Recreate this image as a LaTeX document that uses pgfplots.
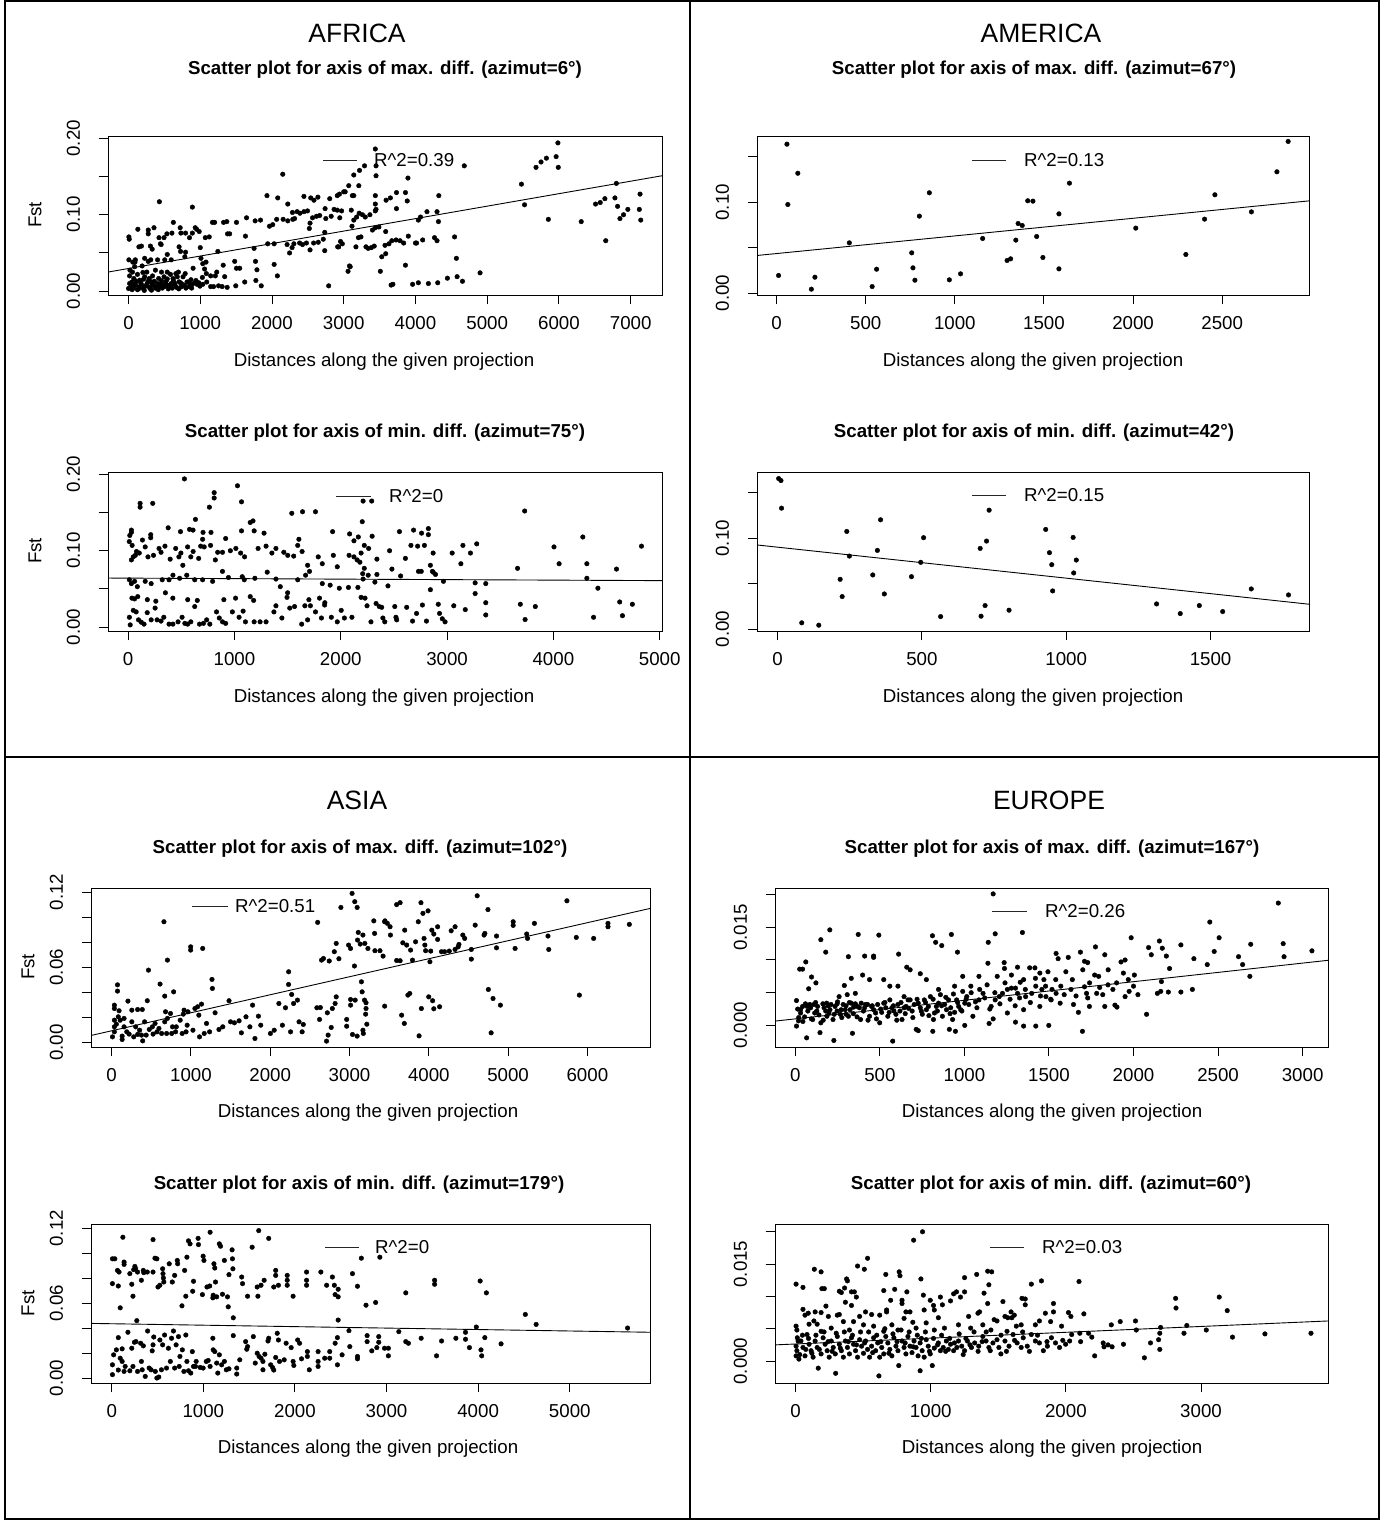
\documentclass[border=0pt]{standalone}
\usepackage{fontspec}
\setmainfont{Liberation Sans}
\usepackage{pgfplots}
\pgfplotsset{compat=1.18}
\newcommand\tf{\fontsize{18.7}{22}\selectfont}
\newcommand\bigf{\fontsize{26.5}{30}\selectfont}
\pgfplotsset{
  rplot/.style={scale only axis, height=159pt, anchor=south west,
    axis line style={line width=1pt}, tick style={line width=1pt,black},
    tick align=outside, major tick length=9.3pt,
    xtick pos=left, ytick pos=left, scaled ticks=false,
    tick label style={font=\tf},
    xticklabel style={yshift=-9pt},
    yticklabel style={xshift=-15pt,rotate=90,anchor=south}},
  pts/.style={only marks, mark=*, mark size=2.3pt, black},
  fit/.style={no marks, line width=0.9pt, black},
}
\begin{document}
\begin{tikzpicture}
\useasboundingbox (0,0) rectangle (1382pt,-1521pt);
\draw[line width=1.4pt] (5pt,-1pt) rectangle (1379pt,-1519pt);
\draw[line width=1.4pt] (690pt,-1pt) -- (690pt,-1519pt);
\draw[line width=1.4pt] (5pt,-757pt) -- (1379pt,-757pt);

% ---------------- AFRICA max
\begin{axis}[rplot, width=554pt, at={(108pt,-295pt)},
  xmin=-286, xmax=7436, ymin=-0.005, ymax=0.203,
  xtick={0,1000,2000,3000,4000,5000,6000,7000}, xticklabels={0,1000,2000,3000,4000,5000,6000,7000},
  ytick={0,0.05,0.1,0.15,0.2}, yticklabels={0.00,,0.10,,0.20}]
\addplot[pts] coordinates {(4680,0.164)(3440,0.186)(3290,0.164)(3220,0.158)(3140,0.152)(3450,0.164)(3450,0.151)(2150,0.153)(5477,0.140)(5680,0.162)(5750,0.169)(5825,0.174)(5960,0.176)(5985,0.194)(5990,0.162)(5520,0.113)(5852,0.094)(6310,0.091)(6652,0.066)(6510,0.114)(6575,0.116)(6640,0.121)(6780,0.122)(6800,0.141)(6817,0.111)(6850,0.095)(6900,0.100)(6960,0.107)(7120,0.107)(7130,0.127)(7140,0.093)
(4900,0.024)(4655,0.013)(4580,0.019)(4570,0.043)(4545,0.071)(4445,0.017)(4310,0.011)(4180,0.010)(4040,0.011)(3960,0.009)
(4325,0.125)(4300,0.104)(4320,0.091)(4300,0.066)(4265,0.070)(4160,0.104)(4070,0.097)(4040,0.093)(4100,0.067)(4015,0.063)(3900,0.072)(3895,0.148)(3885,0.118)(3860,0.129)(3735,0.129)(3650,0.122)(3590,0.119)(3735,0.108)(3860,0.034)(4000,0.063)(3510,0.026)(3530,0.045)(3585,0.049)(3585,0.078)(3660,0.008)(3685,0.009)(3575,0.060)(3630,0.062)(3670,0.066)(3730,0.067)(3785,0.066)(3835,0.063)
(3340,0.056)(3310,0.058)(3385,0.057)(3425,0.059)(3440,0.083)(3440,0.105)(3440,0.114)(3440,0.125)(3450,0.107)(3365,0.100)(3300,0.097)(3260,0.100)(3215,0.102)(3180,0.097)(3140,0.093)(3115,0.085)(3105,0.106)(3120,0.125)(3070,0.138)(3020,0.130)(3210,0.138)(3140,0.125)(3205,0.070)(3170,0.058)(3080,0.033)(3060,0.026)(2980,0.062)(2930,0.058)(2955,0.065)(2970,0.105)(2945,0.096)(2910,0.106)(2910,0.125)(2940,0.127)(3000,0.130)
(2790,0.007)(2805,0.121)(2865,0.107)(2825,0.098)(2750,0.095)(2735,0.077)(2740,0.108)(2640,0.123)(2665,0.099)(2620,0.098)(2585,0.119)(2540,0.122)(2565,0.096)(2530,0.089)(2520,0.082)(2445,0.124)(2495,0.105)(2445,0.104)(2390,0.102)(2350,0.104)(2315,0.095)(2285,0.103)(2290,0.094)(2220,0.114)(2220,0.092)(2155,0.094)(2080,0.122)(2065,0.094)(1930,0.125)(1965,0.085)(2010,0.087)(1940,0.062)(2030,0.062)(2030,0.035)(2075,0.020)
(1840,0.093)(1765,0.092)(1750,0.056)(1645,0.096)(1630,0.072)(1505,0.090)(1505,0.030)(1495,0.007)(1370,0.091)(1325,0.090)(1170,0.090)(1200,0.090)(1380,0.075)(1410,0.075)(1125,0.071)(1070,0.070)(1000,0.057)(985,0.078)(890,0.110)(930,0.083)(950,0.081)(890,0.076)(795,0.076)(730,0.076)(720,0.083)(850,0.070)(605,0.076)(625,0.090)(535,0.075)(495,0.070)(425,0.070)(445,0.062)(430,0.117)(355,0.083)(275,0.080)(275,0.075)(130,0.081)(5,0.071)(10,0.068)
(180,0.059)(145,0.058)(305,0.059)(330,0.055)(455,0.061)(705,0.058)(725,0.052)(795,0.051)(785,0.045)(540,0.048)(505,0.041)(595,0.041)(405,0.041)(310,0.041)(225,0.043)(95,0.041)(5,0.041)(60,0.038)(90,0.038)(190,0.033)(275,0.039)
(1010,0.043)(1035,0.036)(1080,0.038)(1245,0.052)(1320,0.034)(1480,0.039)(1550,0.030)(1770,0.039)(1790,0.028)(1775,0.014)(1850,0.007)(1340,0.019)(1305,0.006)(1255,0.007)(1210,0.020)(1230,0.025)(1145,0.020)(1085,0.023)(1060,0.029)(1030,0.018)(980,0.011)(1035,0.009)(1090,0.012)(1145,0.006)(1375,0.005)(1185,0.006)(1620,0.012)
(0,0.0035)(35,0.006)(70,0.004)(100,0.008)(125,0.002)(155,0.006)(180,0.009)(210,0.003)(235,0.0065)(265,0.011)(290,0.005)(320,0.0013)(345,0.0075)(375,0.004)(405,0.010)(430,0.0057)(460,0.0135)(485,0.0075)(515,0.011)(540,0.016)(570,0.0057)(595,0.010)(625,0.0144)(650,0.0075)(680,0.0188)(705,0.0122)(735,0.0057)(760,0.0188)(790,0.023)(815,0.012)(845,0.006)(870,0.015)(900,0.030)(925,0.011)(955,0.009)(860,0.0087)(45,0.012)(75,0.0166)(125,0.022)(155,0.0144)(200,0.0245)(225,0.0188)(255,0.025)(290,0.0166)(335,0.020)(375,0.0275)(420,0.0166)(460,0.025)(495,0.0188)(540,0.025)(585,0.022)(620,0.0166)(660,0.023)(695,0.025)(55,0.025)(20,0.0275)(85,0.032)(15,0.020)(210,0.0157)(320,0.012)(530,0.0079)(625,0.007)(725,0.011)(780,0.0074)(890,0.009)(995,0.0066)
(15,0.010)(50,0.002)(80,0.009)(110,0.013)(140,0.003)(165,0.012)(195,0.005)(220,0.001)(250,0.008)(280,0.014)(305,0.003)(330,0.009)(360,0.013)(390,0.006)(415,0.002)(445,0.009)(470,0.004)(500,0.006)(525,0.013)(555,0.003)(580,0.008)(610,0.004)(640,0.011)(670,0.005)(700,0.003)(750,0.009)(800,0.004)(830,0.012)(880,0.004)(940,0.014)
(2210,0.061)(2245,0.050)(2280,0.057)(2305,0.062)(2385,0.063)(2425,0.061)(2480,0.063)(2530,0.054)(2580,0.063)(2645,0.064)(2715,0.068)(2735,0.053)(2915,0.058)(3090,0.032)(3240,0.071)(3400,0.080)(3490,0.084)};
\addplot[fit] coordinates {(-286,0.025)(7436,0.151)};
\end{axis}

% ---------------- AFRICA min
\begin{axis}[rplot, width=554pt, at={(108pt,-631pt)},
  xmin=-190, xmax=5022, ymin=-0.005, ymax=0.203,
  xtick={0,1000,2000,3000,4000,5000}, xticklabels={0,1000,2000,3000,4000,5000},
  ytick={0,0.05,0.1,0.15,0.2}, yticklabels={0.00,,0.10,,0.20}]
\addplot[pts] coordinates {(529,0.194)(1028,0.185)(809,0.176)(809,0.169)(112,0.162)(112,0.157)(231,0.162)(1066,0.164)(764,0.157)(633,0.141)(1174,0.139)(1148,0.137)(1539,0.149)(1640,0.151)(1762,0.151)(2210,0.165)(2291,0.165)(2202,0.138)(3730,0.152)(376,0.130)(30,0.127)(30,0.124)(15,0.120)(134,0.114)(212,0.121)(212,0.117)(492,0.125)(577,0.128)(610,0.127)(704,0.124)(779,0.124)(700,0.115)(917,0.116)(1066,0.126)(1185,0.126)(1278,0.123)(1606,0.115)(2083,0.122)(2124,0.113)(2165,0.118)(2295,0.119)(2552,0.125)(2685,0.127)(2760,0.123)(2824,0.129)(2824,0.121)(1923,0.125)
(10,0.112)(37,0.107)(67,0.094)(48,0.092)(30,0.088)(78,0.099)(104,0.097)(160,0.105)(186,0.092)(238,0.094)(290,0.103)(309,0.098)(346,0.106)(395,0.089)(447,0.103)(477,0.092)(496,0.097)(514,0.081)(559,0.105)(589,0.092)(611,0.099)(663,0.090)(682,0.106)(715,0.105)(775,0.107)(820,0.088)(842,0.098)(887,0.098)(961,0.100)(1013,0.103)(1058,0.097)(1095,0.092)(1222,0.103)(1297,0.106)(1352,0.097)(1390,0.103)(1464,0.098)(1501,0.094)(1557,0.093)(1595,0.107)(1636,0.099)(1688,0.081)(1788,0.092)(1826,0.083)(1930,0.094)(1967,0.079)(2078,0.094)(2124,0.092)(2154,0.088)(2180,0.085)(2221,0.107)(2262,0.103)(2191,0.097)(2340,0.089)(2459,0.100)(2608,0.090)(2660,0.107)(2723,0.106)(2787,0.107)(2869,0.097)(2843,0.081)(2731,0.073)(2862,0.073)(3048,0.097)(3149,0.107)(3130,0.083)(3220,0.097)(3279,0.109)(3663,0.077)(4006,0.105)(4054,0.083)(4277,0.118)(4315,0.083)(4315,0.064)(4419,0.051)(4594,0.076)(4829,0.106)(4624,0.033)(4743,0.030)(4650,0.015)(4378,0.013)(3734,0.010)(3689,0.030)(3830,0.027)(3364,0.016)(3364,0.032)(3264,0.044)(3264,0.058)(3171,0.023)(3063,0.028)
(11,0.062)(30,0.057)(60,0.060)(86,0.053)(160,0.060)(216,0.057)(320,0.062)(384,0.062)(421,0.068)(484,0.064)(551,0.068)(626,0.062)(700,0.062)(794,0.060)(887,0.073)(943,0.065)(1073,0.066)(1092,0.062)(1192,0.064)(1308,0.072)(1390,0.063)(1431,0.053)(1595,0.062)(1669,0.068)(1706,0.073)(1826,0.057)(1900,0.055)(1986,0.051)(2072,0.052)(2161,0.052)(2206,0.070)(2210,0.063)(2221,0.077)(2258,0.068)(2321,0.059)(2340,0.069)(2444,0.054)(2481,0.076)(2563,0.067)(2757,0.073)(2869,0.072)(2891,0.069)(2966,0.060)(3364,0.057)
(11,0.013)(19,0.003)(48,0.022)(75,0.020)(97,0.0096)(123,0.0065)(149,0.004)(179,0.019)(216,0.0096)(253,0.025)(272,0.0096)(309,0.008)(335,0.013)(384,0.004)(421,0.004)(469,0.007)(507,0.013)(533,0.005)(559,0.004)(589,0.007)(626,0.027)(671,0.004)(708,0.005)(738,0.0096)(768,0.004)(831,0.020)(857,0.012)(887,0.007)(917,0.005)(980,0.020)(1043,0.013)(1081,0.021)(1103,0.007)(1148,0.040)(1185,0.007)(1241,0.007)(1297,0.007)(1371,0.020)(1390,0.028)(1446,0.012)(1494,0.039)(1520,0.025)(1565,0.027)(1632,0.004)(1662,0.028)(1688,0.0096)(1714,0.028)(1762,0.020)(1800,0.038)(1818,0.012)(1848,0.029)(1911,0.013)(1967,0.007)(2004,0.022)(2034,0.012)(2105,0.013)(2191,0.039)(2228,0.038)(2247,0.028)(2284,0.007)(2332,0.031)(2362,0.027)(2385,0.026)(2396,0.012)(2414,0.007)(2508,0.027)(2519,0.013)(2526,0.0096)(2620,0.026)(2675,0.008)(2713,0.018)(2768,0.029)(2806,0.008)(2917,0.030)(2929,0.018)(2955,0.011)(2981,0.007)(2843,0.049)
(35,0.038)(60,0.037)(90,0.040)(180,0.036)(260,0.034)(350,0.045)(420,0.038)(560,0.036)(650,0.035)(900,0.036)(1010,0.038)(1180,0.035)(1500,0.045)(1700,0.036)(1850,0.032)};
\addplot[fit] coordinates {(-190,0.0643)(5022,0.0609)};
\end{axis}

% ---------------- AMERICA max
\begin{axis}[rplot, width=552pt, at={(757pt,-295pt)},
  xmin=-110, xmax=2987, ymin=-0.002, ymax=0.173,
  xtick={0,500,1000,1500,2000,2500}, xticklabels={0,500,1000,1500,2000,2500},
  ytick={0,0.05,0.1,0.15}, yticklabels={0.00,,0.10,}]
\addplot[pts] coordinates {(11,0.0195)(58,0.164)(63,0.0976)(119,0.132)(195,0.0044)(215,0.0176)(408,0.0554)(536,0.0073)(561,0.0264)(758,0.0444)(765,0.0279)(776,0.0143)(801,0.0848)(857,0.1105)(969,0.0147)(1032,0.0213)(1156,0.0602)(1293,0.0360)(1313,0.0378)(1342,0.0584)(1355,0.0767)(1378,0.0745)(1409,0.1017)(1438,0.1013)(1459,0.0624)(1494,0.0393)(1584,0.0873)(1584,0.0268)(1643,0.1211)(2015,0.0716)(2296,0.0426)(2401,0.0815)(2459,0.1083)(2664,0.0895)(2807,0.1336)(2870,0.167)};
\addplot[fit] coordinates {(-110,0.0415)(2987,0.1016)};
\end{axis}

% ---------------- AMERICA min
\begin{axis}[rplot, width=552pt, at={(757pt,-631pt)},
  xmin=-71, xmax=1841, ymin=-0.002, ymax=0.173,
  xtick={0,500,1000,1500}, xticklabels={0,500,1000,1500},
  ytick={0,0.05,0.1,0.15}, yticklabels={0.00,,0.10,}]
\addplot[pts] coordinates {(4,0.1658)(12,0.1636)(14,0.1332)(84,0.0070)(143,0.0044)(217,0.0549)(224,0.0359)(240,0.1076)(249,0.0805)(330,0.0597)(346,0.0867)(357,0.1204)(370,0.0388)(464,0.0578)(496,0.0736)(506,0.1007)(565,0.0139)(702,0.0889)(705,0.0143)(719,0.0260)(724,0.0970)(733,0.1310)(802,0.0209)(929,0.1098)(942,0.0842)(950,0.0710)(953,0.0421)(1024,0.1010)(1035,0.0761)(1026,0.0619)(1313,0.0278)(1395,0.0172)(1461,0.0260)(1542,0.0194)(1641,0.0443)(1770,0.0377)};
\addplot[fit] coordinates {(-71,0.0927)(1841,0.0275)};
\end{axis}

% ---------------- ASIA max
\begin{axis}[rplot, width=559pt, at={(91pt,-1047pt)},
  xmin=-261, xmax=6790, ymin=-0.0036, ymax=0.1232,
  xtick={0,1000,2000,3000,4000,5000,6000}, xticklabels={0,1000,2000,3000,4000,5000,6000},
  ytick={0,0.02,0.04,0.06,0.08,0.1,0.12}, yticklabels={0.00,,,0.06,,,0.12}]
\addplot[pts] coordinates {(3032,0.1189)(3066,0.1123)(3096,0.1077)(2891,0.1077)(2598,0.0958)(4610,0.117)(5742,0.113)(4746,0.106)(3638,0.1115)(3594,0.110)(3901,0.1115)(3926,0.103)(3990,0.105)(3867,0.0963)(3447,0.097)(3477,0.095)(3511,0.0923)(3516,0.0857)(3306,0.097)(3316,0.087)(3110,0.0878)(3169,0.0857)(3193,0.079)(3232,0.075)(3101,0.0817)(3135,0.0785)(3384,0.0732)(3423,0.0689)(3594,0.0654)(3638,0.0652)(3672,0.0795)(3696,0.0896)(3721,0.0777)(3770,0.0737)(3794,0.0657)(3833,0.0803)(3940,0.083)(3950,0.0777)(3960,0.0732)(4014,0.0644)(4024,0.0729)(4038,0.0896)(4063,0.0865)(4111,0.0923)(4111,0.0822)(4160,0.0724)(4199,0.0724)(4258,0.0729)(4282,0.0891)(4331,0.0923)(4331,0.0742)(4370,0.0763)(4380,0.0782)(4429,0.0857)(4453,0.083)(4536,0.0742)(4536,0.0665)(4585,0.0936)(4697,0.0857)(4707,0.087)(4854,0.0849)(4854,0.0755)(5064,0.0963)(5064,0.0934)(5088,0.075)(5235,0.0865)(5245,0.083)(5332,0.095)(5503,0.0849)(5513,0.0742)(5860,0.0838)(5899,0.0378)(6079,0.083)(6260,0.0923)(6260,0.095)(6529,0.0942)
(3062,0.061)(3150,0.0484)(3159,0.0404)(3189,0.0338)(3208,0.0317)(3208,0.0271)(3203,0.0226)(3218,0.0146)(3013,0.0343)(3013,0.0298)(3071,0.0338)(3096,0.0051)(3037,0.0064)(2964,0.013)(2964,0.0184)(3169,0.0098)(3174,0.0072)(2832,0.0364)(2818,0.0311)(2783,0.0271)(2769,0.012)(2730,0.0059)(2710,0.0011)(2622,0.0184)(2632,0.0279)(2720,0.0237)(2588,0.0277)(3443,0.029)(3657,0.0218)(3691,0.0152)(3736,0.0378)(3760,0.0391)(3906,0.0271)(3999,0.0364)(4048,0.0333)(4063,0.0269)(4136,0.0285)(3877,0.0053)(4751,0.0423)(4810,0.0351)(4903,0.0298)(4786,0.0077)
(73,0.046)(73,0.041)(34,0.0298)(34,0.0271)(93,0.0253)(83,0.0205)(34,0.0178)(34,0.0125)(10,0.0045)(132,0.0051)(132,0.0024)(107,0.0178)(156,0.0192)(205,0.033)(254,0.0258)(254,0.0165)(220,0.0067)(303,0.0125)(327,0.0064)(376,0.0059)(391,0.0013)(327,0.0263)(386,0.0263)(449,0.0333)(464,0.0577)(415,0.0165)(474,0.0104)(513,0.0125)(547,0.0152)(571,0.0085)(610,0.0466)(630,0.0072)(659,0.0963)(669,0.037)(679,0.0245)(703,0.0657)(703,0.0192)(693,0.0072)(742,0.0231)(767,0.0125)(781,0.0404)(806,0.0085)(864,0.0178)(913,0.0258)(938,0.0085)(962,0.0245)(996,0.0763)(996,0.0737)(1050,0.0271)(1084,0.0285)(1099,0.0218)(1108,0.0045)(1133,0.0306)(1148,0.075)(1167,0.0072)(1196,0.0152)(1235,0.0085)(1265,0.0503)(1270,0.0431)(1304,0.0237)(1353,0.0104)(1401,0.0125)(1480,0.0333)(1499,0.0165)(1548,0.0157)(1607,0.0173)(1636,0.0077)(1694,0.0205)(1743,0.0125)(1777,0.0298)(1807,0.0032)(1851,0.021)(1880,0.0138)(2002,0.0072)(2050,0.0098)(2109,0.0311)(2153,0.0138)(2192,0.0277)(2231,0.0463)(2256,0.0085)(2270,0.0383)(2294,0.0311)(2343,0.0338)(2363,0.0165)(2402,0.0085)(2417,0.0144)(2232,0.0564)
(34,0.0085)(59,0.0146)(156,0.0125)(190,0.0085)(278,0.0045)(352,0.0098)(435,0.0059)(522,0.0067)(596,0.0112)(669,0.0165)(757,0.0072)(815,0.0125)(889,0.0072)(952,0.0138)(1025,0.0098)(903,0.0226)
(2832,0.079)(2808,0.0724)(2866,0.0668)(2988,0.0777)(3013,0.075)(2671,0.067)(2647,0.0657)(2744,0.065)(3443,0.0963)(3320,0.0732)};
\addplot[fit] coordinates {(-261,0.0056)(6790,0.1069)};
\end{axis}

% ---------------- ASIA min
\begin{axis}[rplot, width=559pt, at={(91pt,-1383pt)},
  xmin=-226, xmax=5876, ymin=-0.004, ymax=0.1235,
  xtick={0,1000,2000,3000,4000,5000}, xticklabels={0,1000,2000,3000,4000,5000},
  ytick={0,0.02,0.04,0.06,0.08,0.1,0.12}, yticklabels={0.00,,,0.06,,,0.12}]
\addplot[pts] coordinates {(122,0.1129)(451,0.111)(838,0.110)(943,0.112)(947,0.107)(1074,0.1169)(1175,0.1076)(1188,0.1057)(1314,0.1028)(1533,0.1049)(1605,0.1182)(1714,0.112)(8,0.0956)(34,0.0956)(8,0.0757)(72,0.0738)(63,0.0863)(80,0.085)(135,0.093)(135,0.0911)(198,0.0837)(219,0.0752)(240,0.0869)(232,0.0656)(93,0.0563)(274,0.046)(253,0.0895)(261,0.0876)(282,0.085)(324,0.0784)(345,0.0863)(350,0.0845)(388,0.085)(451,0.085)(472,0.0961)(493,0.0956)(505,0.073)(526,0.0744)(556,0.0876)(560,0.0837)(564,0.0802)(569,0.077)(628,0.0916)(661,0.077)(687,0.0823)(716,0.0943)(720,0.0916)(767,0.0579)(796,0.0863)(809,0.0656)(821,0.0969)(855,0.1076)(884,0.0696)(893,0.0776)(998,0.0977)(1007,0.0943)(990,0.0669)(1040,0.073)(1070,0.0738)(1108,0.0664)(1116,0.0916)(1125,0.0882)(1133,0.077)(1104,0.0643)(1146,0.0651)(1209,0.0672)(1230,0.0943)(1264,0.0651)(1272,0.0571)(1280,0.0829)(1318,0.0956)(1323,0.0876)(1327,0.0483)(1419,0.081)(1428,0.0757)(1483,0.0656)(1588,0.073)(1596,0.0656)(1630,0.0744)(1664,0.0784)(1769,0.073)(1790,0.0863)(1790,0.0823)(1820,0.0744)(1916,0.0823)(1916,0.0784)(1916,0.0744)(1980,0.0656)(2127,0.085)(2127,0.0784)(2127,0.0744)(2283,0.085)(2346,0.0744)(2409,0.081)(2430,0.0744)(2439,0.0669)(2472,0.0651)(2472,0.0712)(2472,0.0465)(2628,0.0837)(2683,0.0736)(2725,0.0961)(2776,0.0584)(2881,0.0606)(2927,0.0969)(3210,0.0683)(3525,0.0784)(3525,0.0752)(4022,0.0778)(4090,0.0683)(4515,0.051)(4633,0.043)(5631,0.0401)
(8,0.0027)(8,0.0106)(21,0.0186)(51,0.0226)(72,0.0064)(72,0.0324)(93,0.0159)(114,0.0234)(114,0.0133)(135,0.0053)(147,0.0093)(177,0.0367)(198,0.0058)(219,0.0239)(232,0.0093)(248,0.0287)(265,0.0292)(282,0.0053)(316,0.0279)(324,0.0133)(333,0.0066)(345,0.0258)(366,0.0013)(392,0.0377)(409,0.008)(430,0.0066)(442,0.0218)(451,0.0266)(459,0.0329)(476,0.0053)(493,0.0)(514,0.0008)(526,0.0305)(543,0.0066)(556,0.0266)(577,0.0345)(598,0.008)(619,0.0239)(640,0.0133)(653,0.0319)(674,0.0377)(687,0.008)(703,0.0266)(729,0.0332)(737,0.0093)(745,0.0173)(771,0.0226)(788,0.0053)(809,0.0345)(821,0.0133)(838,0.0058)(863,0.004)(880,0.0212)(893,0.0093)(914,0.0093)(922,0.0133)(965,0.0085)(998,0.008)(1032,0.0133)(1053,0.0141)(1074,0.0093)(1104,0.0319)(1108,0.0226)(1125,0.0212)(1146,0.012)(1158,0.004)(1175,0.0186)(1200,0.0106)(1230,0.0133)(1251,0.0066)(1280,0.0074)(1327,0.034)(1365,0.008)(1365,0.0032)(1398,0.0146)(1462,0.0292)(1474,0.0231)(1483,0.0252)(1546,0.0332)(1567,0.012)(1588,0.0199)(1609,0.0173)(1630,0.0159)(1651,0.0133)(1651,0.0066)(1672,0.0191)(1706,0.0297)(1714,0.0319)(1735,0.0106)(1756,0.0085)(1769,0.0064)(1790,0.0165)(1807,0.0359)(1820,0.0305)(1832,0.0133)(1883,0.0146)(1904,0.0279)(1959,0.0244)(1980,0.0133)(1988,0.0101)(2030,0.0305)(2051,0.0279)(2072,0.0154)(2136,0.0212)(2136,0.0173)(2157,0.0066)(2253,0.0212)(2253,0.0133)(2253,0.0093)(2325,0.0159)(2380,0.0212)(2380,0.0159)(2439,0.0279)(2464,0.0324)(2464,0.0106)(2515,0.0186)(2590,0.038)(2599,0.0252)(2683,0.0173)(2683,0.0154)(2788,0.034)(2788,0.0292)(2839,0.0218)(2894,0.0244)(2915,0.0332)(2915,0.0287)(2978,0.0239)(3020,0.0178)(3020,0.0239)(3134,0.0372)(3210,0.0292)(3239,0.0279)(3378,0.0319)(3546,0.0178)(3601,0.0297)(3757,0.0319)(3862,0.0367)(3862,0.0311)(3905,0.0244)(3980,0.0409)(4031,0.0226)(4039,0.0178)(4073,0.0324)(4250,0.0274)};
\addplot[fit] coordinates {(-226,0.0438)(5876,0.0367)};
\end{axis}

% ---------------- EUROPE max
\begin{axis}[rplot, width=553pt, at={(775pt,-1047pt)},
  xmin=-120, xmax=3150, ymin=-0.0033, ymax=0.0210,
  xtick={0,500,1000,1500,2000,2500,3000}, xticklabels={0,500,1000,1500,2000,2500,3000},
  ytick={0,0.005,0.01,0.015,0.02}, yticklabels={0.000,,,0.015,}]
\addplot[pts] coordinates {(1170,0.0201)(2856,0.0187)(2451,0.0158)(2506,0.0134)(204,0.0146)(151,0.0131)(180,0.0112)(62,0.0097)(26,0.0086)(43,0.0086)(96,0.0074)(122,0.0065)(79,0.0056)(372,0.0139)(494,0.0138)(314,0.0105)(410,0.0106)(463,0.0106)(463,0.0104)(331,0.0072)(398,0.0077)(290,0.0061)(307,0.0047)(611,0.0109)(659,0.0089)(679,0.0085)(739,0.0079)(811,0.0137)(830,0.0127)(866,0.0122)(923,0.0139)(959,0.0112)(1141,0.0127)(1139,0.0095)(1182,0.0140)(1235,0.0096)(1343,0.0142)(1237,0.0087)(1386,0.0088)(1417,0.0088)(1542,0.0110)(1554,0.0102)(1614,0.0104)(1686,0.0112)(1710,0.0098)(1729,0.0096)(1775,0.0120)(1830,0.0108)(1926,0.0097)(1950,0.0100)(1986,0.0134)(2089,0.0119)(2105,0.0108)(2153,0.0129)(2170,0.0118)(2194,0.0106)(2213,0.0087)(2280,0.0123)(2357,0.0102)(2436,0.0093)(2477,0.0113)(2621,0.0105)(2645,0.0093)(2688,0.0075)(2693,0.0124)(2885,0.0125)(2890,0.0105)(3055,0.0114)(2348,0.0055)(2280,0.0051)(2161,0.0052)(2165,0.0067)(2077,0.0017)(2005,0.0077)(1969,0.0070)(2026,0.0047)(1974,0.0052)(1878,0.0055)(1890,0.0031)(1902,0.0028)(1770,0.0077)(1794,0.0075)(1782,0.0049)(1849,0.0062)(1722,0.0049)(1729,0.0042)(1698,-0.0009)(1638,0.0070)(1645,0.0032)(1674,0.0020)(1710,0.0059)(1590,0.0047)(1542,0.0049)(1566,0.0034)(1513,0.0039)(1482,0.0044)(1470,0.0070)(1422,0.0060)(1398,0.0049)(1362,0.0044)(1326,0.0042)(1302,0.0057)(1314,0.0049)(1278,0.0057)(1254,0.0055)(1225,0.0049)(1206,0.0044)(1182,0.0039)(1158,0.0029)(1134,0.0062)(1110,0.0049)(1086,0.0039)(1074,0.0027)(1050,0.0014)(1026,0.0032)(1014,0.0044)(990,0.0052)(966,0.0029)(942,0.0020)(930,0.0009)(906,0.0039)(894,0.0024)(870,0.0014)(858,0.0047)(834,0.0029)(817,0.0009)(799,0.0044)(775,0.0024)(751,0.0017)(727,0.0034)(715,-0.0006)(691,0.0022)(667,0.0039)(643,0.0027)(631,0.0009)(607,0.0032)(583,0.0022)(559,0.0039)(547,0.0014)(535,0.0027)(511,0.0020)(499,0.0004)(487,0.0032)(463,0.0024)(439,0.0014)(427,0.0032)(403,0.0022)(386,0.0009)(367,0.0029)(343,0.0018)(331,0.0034)(314,0.0014)(295,0.0024)(283,0.0032)(266,0.0017)(247,0.0022)(235,0.0029)(223,0.0009)(228,-0.0023)(211,0.0032)(199,0.0019)(187,0.0014)(170,0.0027)(151,0.0004)(146,-0.0011)(132,0.0029)(115,0.0019)(103,0.0009)(86,0.0032)(74,0.0022)(67,-0.0019)(55,0.0013)(43,0.0029)(31,0.0019)(19,0.0007)(7,-0.0001)(7,0.0038)(14,0.0025)(338,-0.0012)(576,-0.0024)(727,-0.0008)(813,-0.0009)(911,-0.0006)(947,-0.0009)(1002,0.0)(1350,-0.0001)(1499,0.0)(1422,-0.0001)(1146,0.0003)(1170,0.0010)(1302,0.0005)(1254,0.0019)(1350,0.0024)(1446,0.0029)(1458,0.0055)(1518,0.0055)(2141,0.0049)(2206,0.0051)(1950,0.0044)(1818,0.0047)(1739,0.0029)(1830,0.0029)
(31,0.0024)(60,0.0033)(91,0.0027)(110,0.0032)(127,0.0022)(163,0.0033)(180,0.0022)(194,0.0030)(247,0.0033)(271,0.0024)(300,0.0030)(324,0.0024)(355,0.0033)(379,0.0027)(415,0.0032)(451,0.0029)(475,0.0019)(523,0.0034)(571,0.0027)(595,0.0017)(619,0.0022)(655,0.0029)(679,0.0039)(703,0.0032)(739,0.0027)(763,0.0039)(787,0.0029)(823,0.0019)(847,0.0034)(883,0.0032)(919,0.0027)(954,0.0039)(978,0.0024)(1002,0.0034)
(259,0.0044)(355,0.0049)(439,0.0070)(523,0.0070)(559,0.0060)(607,0.0060)(643,0.0044)(775,0.0070)(847,0.0055)(942,0.0060)(990,0.0075)(1038,0.0060)(1086,0.0075)(1194,0.0075)(1278,0.0077)(1314,0.0089)(1350,0.0070)(1446,0.0080)(1494,0.0082)
(20,0.0012)(45,0.0006)(70,0.0029)(95,0.0010)(120,0.0035)(140,0.0016)(165,0.0008)(185,0.0034)(205,0.0024)(230,0.0017)(250,0.0036)(275,0.0012)(300,0.0017)(320,0.0035)(345,0.0028)(365,0.0013)(390,0.0034)(410,0.0027)(430,0.0008)(455,0.0030)(480,0.0010)(505,0.0025)(530,0.0035)(555,0.0020)(580,0.0030)(600,0.0008)(625,0.0035)(650,0.0018)(670,0.0026)(695,0.0012)(720,0.0040)(745,0.0022)(770,0.0035)(790,0.0015)(815,0.0040)(840,0.0022)(865,0.0030)(890,0.0043)(915,0.0018)(935,0.0048)(960,0.0035)(985,0.0022)(1010,0.0040)(1040,0.0050)(1065,0.0036)(1090,0.0055)(1120,0.0042)(1150,0.0025)(1180,0.0050)(1210,0.0033)(1240,0.0065)(1270,0.0040)(1300,0.0030)(1330,0.0066)(1360,0.0055)(1390,0.0035)(1420,0.0072)(1450,0.0045)(1480,0.0060)(1510,0.0040)(1540,0.0070)(1570,0.0060)(1600,0.0082)(1630,0.0055)(1660,0.0045)(1700,0.0085)(1740,0.0065)(1800,0.0058)(1850,0.0085)(1900,0.0065)(1940,0.0080)(2000,0.0060)};
\addplot[fit] coordinates {(-120,0.00066)(3150,0.00995)};
\end{axis}

% ---------------- EUROPE min
\begin{axis}[rplot, width=553pt, at={(775pt,-1383pt)},
  xmin=-153, xmax=3940, ymin=-0.0034, ymax=0.0212,
  xtick={0,1000,2000,3000}, xticklabels={0,1000,2000,3000},
  ytick={0,0.005,0.01,0.015,0.02}, yticklabels={0.000,,,0.015,}]
\addplot[pts] coordinates {(939,0.0200)(873,0.0187)(3,0.0119)(54,0.0114)(138,0.0142)(188,0.0138)(194,0.0112)(212,0.0112)(532,0.0159)(458,0.0147)(508,0.0142)(323,0.0108)(338,0.0106)(362,0.0113)(413,0.0107)(434,0.0107)(377,0.0127)(383,0.0124)(449,0.0099)(54,0.0080)(93,0.0074)(144,0.0076)(188,0.0075)(224,0.0085)(242,0.0069)(99,0.0057)(159,0.0057)(3,0.0054)(9,0.0048)(323,0.0072)(368,0.0091)(413,0.0086)(428,0.0061)(473,0.0069)(502,0.0056)(562,0.0072)(667,0.0134)(652,0.0109)(673,0.0076)(673,0.0079)(703,0.0094)(733,0.0111)(766,0.0138)(772,0.0132)(787,0.0089)(787,0.0094)(802,0.0066)(823,0.0107)(846,0.0076)(867,0.0060)(927,0.0127)(945,0.0102)(951,0.0079)(996,0.0094)(1020,0.0086)(1026,0.0079)(1071,0.0099)(1086,0.0087)(1146,0.0093)(1169,0.0104)(1190,0.0107)(1220,0.0099)(1250,0.0107)(1250,0.0129)(1280,0.0069)(1340,0.0134)(1349,0.0074)(1361,0.0076)(1394,0.0105)(1421,0.0139)(1451,0.0138)(1430,0.0118)(1421,0.0089)(1469,0.0064)(1490,0.0062)(1534,0.0092)(1549,0.0069)(1570,0.0067)(1600,0.0067)(1594,0.0076)(1618,0.0071)(1633,0.0054)(1669,0.0056)(1675,0.0097)(1699,0.0087)(1699,0.0096)(1744,0.0119)(1804,0.0062)(1819,0.0124)(1848,0.0074)(1908,0.0089)(1908,0.0076)(2019,0.0075)(2037,0.0069)(2097,0.0123)(2133,0.0073)(2109,0.0030)(2192,0.0037)(2213,0.0008)(2276,0.0028)(2282,0.0022)(2336,0.0056)(2402,0.0061)(2426,0.0026)(2515,0.0062)(2521,0.0048)(2581,0.0005)(2626,0.0028)(2686,0.0033)(2695,0.0043)(2701,0.0052)(2812,0.0097)(2815,0.0082)(2874,0.0043)(2895,0.0055)(3039,0.0048)(3135,0.0099)(3194,0.0078)(3233,0.0037)(3473,0.0042)(3814,0.0043)(2695,0.0018)(2312,0.0025)(2342,0.0022)
(2168,0.0043)(2103,0.0043)(2043,0.0041)(2028,0.0031)(1998,0.0026)(1977,0.0032)(1953,0.0021)(1923,0.0028)(1893,0.0036)(1863,0.0023)(1833,0.0016)(1804,0.0028)(1774,0.0031)(1744,0.0041)(1714,0.0023)(1684,0.0036)(1669,0.0021)(1639,0.0028)(1609,0.0041)(1579,0.0023)(1549,0.0031)(1519,0.0011)(1504,0.0021)(1490,0.0033)(1460,0.0028)(1430,0.0021)(1409,0.0031)(1385,0.0038)(1355,0.0023)(1325,0.0028)(1301,0.0021)(1271,0.0031)(1250,0.0016)(1229,0.0023)(1205,0.0031)(1193,0.0021)(1169,0.0016)(1146,0.0026)(1130,0.0018)(1115,0.0031)(1092,0.0021)(1071,0.0016)(1056,0.0028)(1026,0.0020)(1011,-0.0007)(996,0.0011)(981,0.0023)(966,0.0033)(951,0.0006)(936,0.0016)(921,0.0028)(921,-0.0015)(906,0.0008)(891,0.0021)(876,0.0031)(861,0.0013)(846,0.0023)(831,0.0038)(816,0.0011)(802,0.0021)(787,0.0031)(763,-0.0007)(757,0.0016)(742,0.0023)(727,0.0036)(712,0.0008)(697,0.0018)(682,0.0028)(667,0.0038)(652,0.0011)(637,0.0021)(622,0.0006)(616,-0.0023)(607,0.0028)(592,0.0016)(577,0.0036)(562,0.0023)(547,0.0006)(532,0.0018)(517,0.0031)(502,0.0012)(488,0.0023)(473,0.0033)(458,0.0006)(443,0.0016)(428,0.0026)(413,0.0036)(398,0.0011)(383,0.0021)(368,0.0031)(353,0.0006)(338,0.0016)(323,0.0026)(308,0.0038)(296,-0.0019)(293,0.0011)(278,0.0021)(263,0.0031)(248,0.0006)(233,0.0016)(218,0.0026)(203,0.0036)(188,0.0011)(167,-0.0011)(159,0.0021)(144,0.0031)(129,0.0006)(114,0.0016)(99,0.0026)(84,0.0041)(69,0.0008)(54,0.0021)(39,0.0031)(24,0.0003)(9,0.0016)(3,0.0023)(3,0.0008)(18,0.0031)
(69,0.0071)(135,0.0062)(188,0.0046)(263,0.0051)(308,0.0071)(353,0.0061)(398,0.0048)(517,0.0076)(577,0.0054)(622,0.0071)(652,0.0046)(712,0.0056)(757,0.0048)(816,0.0076)(891,0.0051)(966,0.0059)(1026,0.0048)(1056,0.0067)(1101,0.0051)(1205,0.0056)(1295,0.0051)(1385,0.0056)(1445,0.0048)(1564,0.0046)(1774,0.0056)(1887,0.0061)(1968,0.0054)
(12,0.0036)(30,0.0010)(50,0.0040)(75,0.0018)(95,0.0035)(120,0.0012)(150,0.0040)(175,0.0018)(210,0.0045)(240,0.0030)(270,0.0015)(300,0.0043)(330,0.0020)(360,0.0045)(390,0.0030)(420,0.0040)(450,0.0025)(480,0.0045)(510,0.0028)(540,0.0045)(570,0.0013)(600,0.0040)(630,0.0030)(660,0.0050)(690,0.0012)(720,0.0042)(750,0.0030)(780,0.0048)(810,0.0028)(840,0.0045)(870,0.0022)(900,0.0040)(930,0.0035)(960,0.0045)(990,0.0015)(1020,0.0035)(1050,0.0025)(1080,0.0040)(1110,0.0015)(1140,0.0035)(1175,0.0028)(1210,0.0042)(1240,0.0010)(1260,0.0035)(1290,0.0025)(1320,0.0045)(1350,0.0015)(1380,0.0030)(1410,0.0045)(1440,0.0016)(1520,0.0040)(1560,0.0015)(1620,0.0032)(1680,0.0045)(1730,0.0015)(1790,0.0040)(1860,0.0030)};
\addplot[fit] coordinates {(-153,0.0025)(3940,0.0062)};
\end{axis}

% ---------------- titles, labels, legends
\node[font=\bigf] at (357pt,-33pt) {AFRICA};
\node[font=\bigf] at (1041pt,-33pt) {AMERICA};
\node[font=\bigf] at (357pt,-800pt) {ASIA};
\node[font=\bigf] at (1049pt,-800pt) {EUROPE};

\node[font=\tf\bfseries] at (385pt,-70pt) {Scatter plot for axis of max. diff. (azimut=6°)};
\node[font=\tf\bfseries] at (385pt,-433pt) {Scatter plot for axis of min. diff. (azimut=75°)};
\node[font=\tf\bfseries] at (1034pt,-70pt) {Scatter plot for axis of max. diff. (azimut=67°)};
\node[font=\tf\bfseries] at (1034pt,-433pt) {Scatter plot for axis of min. diff. (azimut=42°)};
\node[font=\tf\bfseries] at (360pt,-849pt) {Scatter plot for axis of max. diff. (azimut=102°)};
\node[font=\tf\bfseries] at (359pt,-1185pt) {Scatter plot for axis of min. diff. (azimut=179°)};
\node[font=\tf\bfseries] at (1052pt,-849pt) {Scatter plot for axis of max. diff. (azimut=167°)};
\node[font=\tf\bfseries] at (1051pt,-1185pt) {Scatter plot for axis of min. diff. (azimut=60°)};

\foreach \x/\y in {384/362,384/698,1033/362,1033/698,368/1113,368/1449,1052/1113,1052/1449}
  \node[font=\tf] at (\x pt,-\y pt) {Distances along the given projection};

\foreach \x/\y in {35/215,35/551,28/967,28/1303}
  \node[font=\tf,rotate=90] at (\x pt,-\y pt) {Fst};

\foreach \a/\b/\t/\y/\r in {323/357/374/160/0.39,336/371/389/496/0,972/1006/1024/160/0.13,972/1006/1024/495/0.15,192/228/235/906/0.51,325/359/375/1247/0,992/1027/1045/911/0.26,990/1024/1042/1247/0.03}{
  \draw[line width=0.9pt, black!85] (\a pt,-\y pt) -- (\b pt,-\y pt);
  \node[font=\tf, anchor=west, inner sep=0pt] at (\t pt,-\y pt) {R\textasciicircum 2=\r};
}
\end{tikzpicture}
\end{document}
